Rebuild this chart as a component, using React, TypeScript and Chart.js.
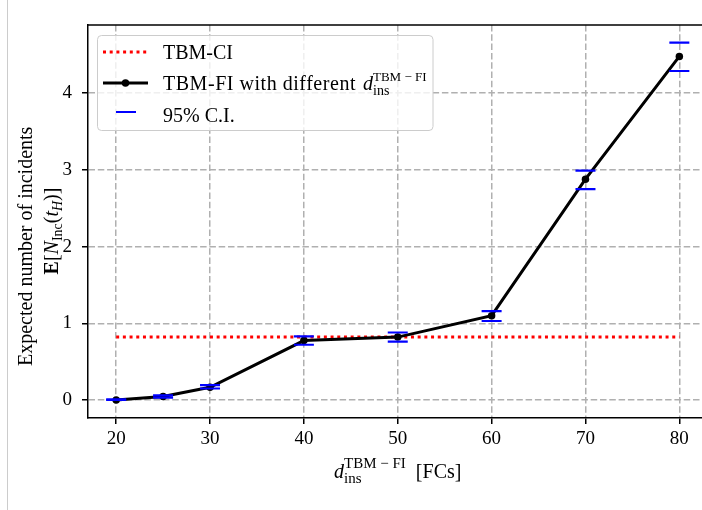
import React, { useEffect, useRef } from "react";
import { Chart, registerables } from "chart.js";

Chart.register(...registerables);

const SERIF = '"Liberation Serif", "Times New Roman", serif';

// ---- data ----
const xValues = [20, 25, 30, 40, 50, 60, 70, 80];
const meanIncidents = [0.0, 0.045, 0.165, 0.775, 0.82, 1.1, 2.88, 4.48];
const ciLower = [0.0, 0.03, 0.15, 0.72, 0.76, 1.03, 2.75, 4.29];
const ciUpper = [0.008, 0.06, 0.195, 0.83, 0.88, 1.16, 2.99, 4.66];
const tbmCiValue = 0.82;
const tbmCiRange = [20, 80];
const xTickValues = [20, 30, 40, 50, 60, 70, 80];
const yTickValues = [0, 1, 2, 3, 4];
const legendLabels = ["TBM-CI", "TBM-FI with different", "95% C.I."];

type Piece = { t: string; f: string; dy?: number };
type Group = Piece[];

const R20 = `20px ${SERIF}`;
const I20 = `italic 20px ${SERIF}`;
const B20 = `bold 20px ${SERIF}`;
const R14 = `14px ${SERIF}`;
const R13 = `13px ${SERIF}`;
const R15 = `15px ${SERIF}`;
const I14 = `italic 14px ${SERIF}`;

function groupWidth(ctx: CanvasRenderingContext2D, g: Group) {
  let w = 0;
  for (const p of g) {
    ctx.font = p.f;
    w = Math.max(w, ctx.measureText(p.t).width);
  }
  return w;
}
function richWidth(ctx: CanvasRenderingContext2D, groups: Group[]) {
  return groups.reduce((s, g) => s + groupWidth(ctx, g), 0);
}
function drawRich(ctx: CanvasRenderingContext2D, groups: Group[], x: number, y: number) {
  let cx = x;
  for (const g of groups) {
    for (const p of g) {
      ctx.font = p.f;
      ctx.fillText(p.t, cx, y + (p.dy || 0));
    }
    cx += groupWidth(ctx, g);
  }
}

const decorPlugin = {
  id: "decor",
  afterDraw(chart: any) {
    const ctx: CanvasRenderingContext2D = chart.ctx;
    const { left, right, top, bottom } = chart.chartArea;
    ctx.save();
    // page edge line
    ctx.strokeStyle = "#cccccc";
    ctx.lineWidth = 1;
    ctx.beginPath();
    ctx.moveTo(7.5, 0);
    ctx.lineTo(7.5, 510);
    ctx.stroke();
    // top & right spines
    ctx.strokeStyle = "#000";
    ctx.lineWidth = 1.5;
    ctx.beginPath();
    ctx.moveTo(left - 0.75, top);
    ctx.lineTo(right, top);
    ctx.lineTo(right, bottom);
    ctx.stroke();

    ctx.fillStyle = "#000";
    ctx.textAlign = "left";
    ctx.textBaseline = "alphabetic";

    // x axis title
    const xTitle: Group[] = [
      [{ t: "d", f: I20 }],
      [
        { t: "TBM − FI", f: R15, dy: -10 },
        { t: "ins", f: R15, dy: 5 },
      ],
      [{ t: "  [FCs]", f: R20 }],
    ];
    const xw = richWidth(ctx, xTitle);
    drawRich(ctx, xTitle, (left + right) / 2 - xw / 2, 478);

    // y axis title (two lines, rotated)
    const line1: Group[] = [[{ t: "Expected number of incidents", f: R20 }]];
    const line2: Group[] = [
      [{ t: "E", f: B20 }],
      [{ t: "[", f: R20 }],
      [{ t: "N", f: I20 }],
      [{ t: "Inc", f: R14, dy: 4 }],
      [{ t: "(", f: R20 }],
      [{ t: "t", f: I20 }],
      [{ t: "H", f: I14, dy: 4 }],
      [{ t: ")]", f: R20 }],
    ];
    ctx.save();
    ctx.translate(32, 366);
    ctx.rotate(-Math.PI / 2);
    drawRich(ctx, line1, 0, 0);
    ctx.restore();
    ctx.save();
    ctx.translate(58, 231);
    ctx.rotate(-Math.PI / 2);
    drawRich(ctx, line2, -richWidth(ctx, line2) / 2, 0);
    ctx.restore();

    // legend box
    ctx.beginPath();
    (ctx as any).roundRect(97.5, 35.5, 335.5, 95, 4);
    ctx.fillStyle = "rgba(255,255,255,0.8)";
    ctx.fill();
    ctx.strokeStyle = "#cccccc";
    ctx.lineWidth = 1;
    ctx.stroke();

    // handles
    ctx.lineCap = "butt";
    ctx.strokeStyle = "#ff0000";
    ctx.lineWidth = 3;
    ctx.setLineDash([3, 3.7]);
    ctx.beginPath();
    ctx.moveTo(103, 52);
    ctx.lineTo(148, 52);
    ctx.stroke();
    ctx.setLineDash([]);

    ctx.strokeStyle = "#000";
    ctx.lineWidth = 3;
    ctx.beginPath();
    ctx.moveTo(103, 83);
    ctx.lineTo(148, 83);
    ctx.stroke();
    ctx.fillStyle = "#000";
    ctx.beginPath();
    ctx.arc(125.5, 83, 3.75, 0, Math.PI * 2);
    ctx.fill();

    ctx.strokeStyle = "#0000ff";
    ctx.lineWidth = 2;
    ctx.beginPath();
    ctx.moveTo(116, 112);
    ctx.lineTo(136, 112);
    ctx.stroke();

    ctx.fillStyle = "#000";
    drawRich(ctx, [[{ t: legendLabels[0], f: R20 }]], 163, 58.5);
    // stretch the middle label so that it spans like the reference
    ctx.font = R20;
    const natural = ctx.measureText(legendLabels[1]).width;
    const target = 356 - 163;
    const n = legendLabels[1].length;
    (ctx as any).letterSpacing = `${Math.max(0, (target - natural) / n)}px`;
    ctx.fillText(legendLabels[1], 163, 89.5);
    (ctx as any).letterSpacing = "0px";
    drawRich(
      ctx,
      [
        [{ t: "d", f: I20 }],
        [
          { t: "TBM − FI", f: R13, dy: -9 },
          { t: "ins", f: R14, dy: 5 },
        ],
      ],
      363,
      89.5
    );
    drawRich(ctx, [[{ t: legendLabels[2], f: R20 }]], 163, 122);
    ctx.restore();
  },
};

export default function App() {
  const ref = useRef<HTMLCanvasElement | null>(null);
  useEffect(() => {
    if (!ref.current) return;
    const axisCommon = (tickValues: number[]) => ({
      type: "linear" as const,
      afterBuildTicks: (s: any) => {
        s.ticks = tickValues.map((v) => ({ value: v }));
      },
      grid: {
        color: "#b0b0b0",
        lineWidth: 1.5,
        tickLength: 6,
        tickColor: "#000",
        tickWidth: 1.5,
        tickBorderDash: [1, 0],
      },
      border: { display: true, color: "#000", width: 1.5, dash: [6.5, 2.8] },
    });
    const chart = new Chart(ref.current, {
      type: "line",
      data: {
        datasets: [
          {
            label: legendLabels[2],
            type: "scatter",
            data: [
              ...xValues.map((x, i) => ({ x, y: ciLower[i] })),
              ...xValues.map((x, i) => ({ x, y: ciUpper[i] })),
            ],
            showLine: false,
            pointStyle: "line",
            pointRadius: 10,
            pointBorderWidth: 2.2,
            borderColor: "#0000ff",
            backgroundColor: "#0000ff",
          } as any,
          {
            label: legendLabels[1],
            data: xValues.map((x, i) => ({ x, y: meanIncidents[i] })),
            borderColor: "#000",
            borderWidth: 3,
            pointRadius: 3.75,
            pointBorderWidth: 0,
            pointBackgroundColor: "#000",
            tension: 0,
          },
          {
            label: legendLabels[0],
            data: tbmCiRange.map((x) => ({ x, y: tbmCiValue })),
            borderColor: "#ff0000",
            borderWidth: 3,
            borderDash: [3, 3.7],
            borderCapStyle: "butt",
            pointRadius: 0,
          },
        ],
      },
      options: {
        responsive: false,
        animation: false,
        layout: { padding: { left: 0, right: 12.5, top: 25, bottom: 0 } },
        plugins: { legend: { display: false }, tooltip: { enabled: false } },
        scales: {
          x: {
            ...axisCommon(xTickValues),
            min: 17,
            max: 83,
            afterFit: (s: any) => {
              s.height = 92;
            },
            ticks: {
              font: { family: SERIF, size: 19 },
              color: "#000",
              padding: 4,
              maxRotation: 0,
              autoSkip: false,
            },
          },
          y: {
            ...axisCommon(yTickValues),
            min: -0.235,
            max: 4.89,
            afterFit: (s: any) => {
              s.width = 88;
            },
            ticks: {
              font: { family: SERIF, size: 19 },
              color: "#000",
              padding: 10,
              autoSkip: false,
            },
          },
        },
      },
      plugins: [decorPlugin],
    } as any);
    return () => chart.destroy();
  }, []);
  return (
    <div
      style={{
        position: "absolute",
        left: 0,
        top: 0,
        width: 702,
        height: 510,
        overflow: "hidden",
        background: "#fff",
      }}
    >
      <canvas ref={ref} width={720} height={510} style={{ display: "block" }} />
    </div>
  );
}
